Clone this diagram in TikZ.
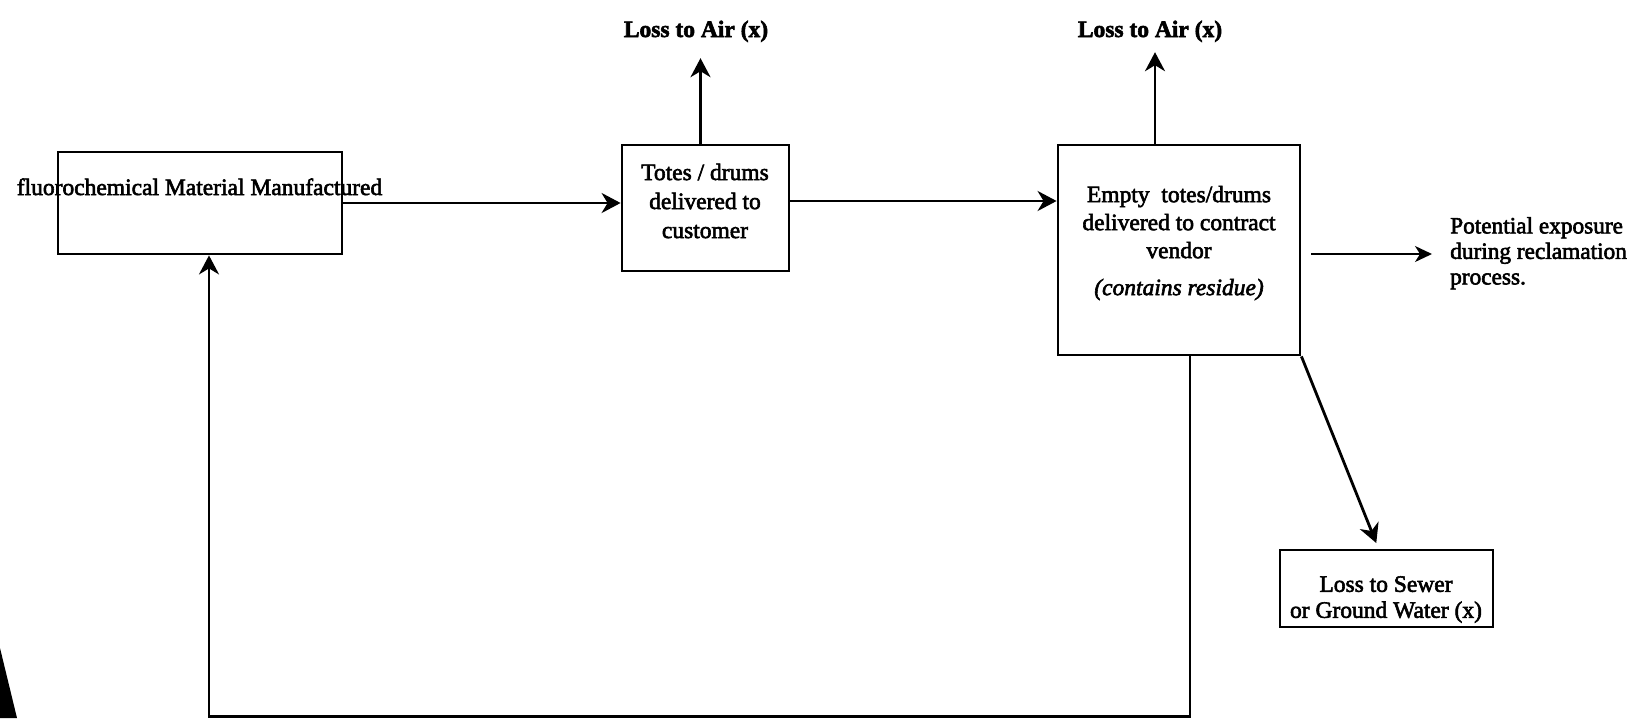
\documentclass[tikz,border=0pt]{standalone}
\usepackage{fontspec}
\setmainfont{Liberation Serif}[FakeBold=2.5]
\usetikzlibrary{arrows.meta}

\begin{document}
\begin{tikzpicture}[x=1pt,y=-1pt,
  box/.style={draw, line width=2.8pt, inner sep=0pt},
  txt/.style={inner sep=0pt, font=\fontsize{23.5}{29}\selectfont},
  boldtxt/.style={inner sep=0pt, font=\fontsize{23.5}{29}\selectfont\bfseries},
  sidetxt/.style={inner sep=0pt, align=left, font=\fontsize{23.3}{25.5}\selectfont},
  flow/.style={line width=2.8pt, -{Stealth[length=19pt,width=20pt,inset=6pt]}},
  thinflow/.style={line width=1.8pt, -{Stealth[length=17pt,width=16pt,inset=5pt]}}]

  \useasboundingbox (0,0) rectangle (1635,718);

  % scanner edge mark, lower left
  \fill (0,648) -- (17,718) -- (0,718) -- cycle;

  % process boxes
  \node[txt, anchor=base] (madetxt) at (199.5,195) {fluorochemical Material Manufactured};
  \node[box, minimum width=284pt, minimum height=102pt] (made) at (200,203) {};

  \node[box, minimum width=167pt, minimum height=126pt] (totes) at (705.5,208) {};
  \node[txt, align=center] (totestxt) at (705,201) {Totes / drums\\delivered to\\customer};

  \node[box, minimum width=242pt, minimum height=210pt] (vendor) at (1179,250) {};
  \node[txt, align=center, font=\fontsize{23.5}{28}\selectfont] (vendortxt) at (1179,243)
    {Empty\ \ totes/drums\\delivered to contract\\vendor\\[9pt]\textit{(contains residue)}};

  \node[box, minimum width=213pt, minimum height=77pt] (sewer) at (1386.5,588.5) {};
  \node[txt, align=center, font=\fontsize{23.5}{26}\selectfont] (sewertxt) at (1386,599.5)
    {Loss to Sewer\\or Ground Water (x)};

  % free labels
  \node[boldtxt, anchor=base] (air1) at (696,37) {Loss to Air (x)};
  \node[boldtxt, anchor=base] (air2) at (1150,37) {Loss to Air (x)};
  \node[sidetxt, anchor=north west] (expo) at (1450,217)
    {Potential exposure\\during reclamation\\process.};

  % main flow
  \draw[flow] (made.east) -- (made.east -| totes.west);
  \draw[flow] ([yshift=7pt]totes.east) coordinate (t2v) -- (t2v -| vendor.west);

  % losses to air
  \draw[flow, shorten >=16pt] ([xshift=-5pt]totes.north) coordinate (a1)
    -- (a1 |- air1.south);
  \draw[flow, shorten >=10pt] ([xshift=-24pt]vendor.north) coordinate (a2)
    -- (a2 |- air2.south);

  % reclamation exposure
  \draw[thinflow, shorten >=18pt] ([shift={(10pt,-4pt)}]vendor.east) coordinate (e1)
    -- (e1 -| expo.west);

  % loss to sewer
  \draw[flow, shorten >=6pt] (vendor.south east) -- ([xshift=-8pt]sewer.north);

  % return of the empty totes
  \draw[flow] ([xshift=11pt]vendor.south) -- ++(0,360) -| ([xshift=9pt]made.south);
\end{tikzpicture}
\end{document}
